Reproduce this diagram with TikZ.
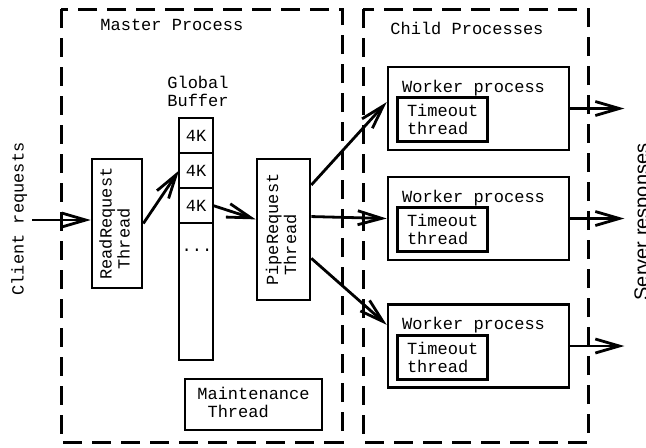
\documentclass[tikz,border=0pt]{standalone}
\usepackage{fontspec}
\setmainfont{Liberation Mono}
\newfontfamily\respfont{Liberation Sans}
\usetikzlibrary{arrows.meta,calc,positioning}
\tikzset{>={Straight Barb[length=12pt,width=7pt]},
  grp/.style={line width=1.5pt,dash pattern=on 9.5pt off 5pt},
  box/.style={draw,line width=1.3pt,inner sep=0pt,align=center},
  cell/.style={box,outer sep=0pt,minimum width=17pt,minimum height=17.5pt},
  txt/.style={inner sep=0pt},
  link/.style={->,line width=1.4pt}}

\begin{document}
\begin{tikzpicture}[x=0.5pt,y=-0.5pt,font=\fontsize{8.5}{9}\selectfont]
\useasboundingbox (0,0) rectangle (646,447);
\draw[grp] (61,9) rectangle (342,442);
\draw[grp] (363,9) rectangle (588,442);
\node[txt,anchor=west] (mtitle) at (100,25) {Master Process};
\node[txt,anchor=west] (ctitle) at (390,28) {Child Processes};

\node[txt,rotate=90,anchor=north] (client) at (11,219) {Client requests};
\node[txt,rotate=90,anchor=north,font=\respfont\fontsize{10}{12}\selectfont] (server) at (634,222) {Server responses};

\node[box,minimum width=25pt,minimum height=64.5pt] (read) at (117,223.5)
  {\rotatebox{90}{\begin{tabular}{@{}l@{}}ReadRequest\\\ Thread\end{tabular}}};
\node[txt,align=center] (glabel) at (198,91) {Global\\Buffer};
\node[cell] (c1) at (196,135.5) {4K};
\node[cell,below=0pt of c1] (c2) {4K};
\node[cell,below=0pt of c2] (c3) {4K};
\node[cell,minimum height=68.5pt,below=0pt of c3] (c4) {};
\node[txt] (dots) at (197,250) {...};
\node[box,minimum width=26.5pt,minimum height=70.5pt] (pipe) at (283.5,229.5)
  {\rotatebox{90}{\begin{tabular}{@{}l@{}}PipeRequest\\\ Thread\end{tabular}}};
\node[box,minimum width=68.5pt,minimum height=25.5pt] (maint) at (253.5,404.5)
  {\begin{tabular}{@{}l@{}}Maintenance\\\ Thread\end{tabular}};

\foreach \n/\y in {1/108.5,2/218.5,3/346}{
  \node[box,minimum width=90.5pt,minimum height=41.5pt] (w\n) at (478.5,\y) {};
  \node[txt,anchor=north west] (wl\n) at ($(w\n.north west)+(15,14)$) {Worker process};
  \node[box,minimum width=45pt,minimum height=22pt,align=left] (t\n) at ($(w\n.north west)+(56,54)$) {Timeout\\thread};
  \draw[link] (w\n.east) -- ++(54,0);
}

\coordinate (cin) at (32,220);
\draw[link] (cin) -- (cin -| read.west);
\draw[link] (read.east) -- (c2.west);
\draw[link] (c3.east) -- (pipe.160);
\draw[link] (pipe.58) -- (w1.176);
\draw[link] (pipe.25) -- (w2.west);
\draw[link] (pipe.-46) -- (w3.167);
\end{tikzpicture}
\end{document}
